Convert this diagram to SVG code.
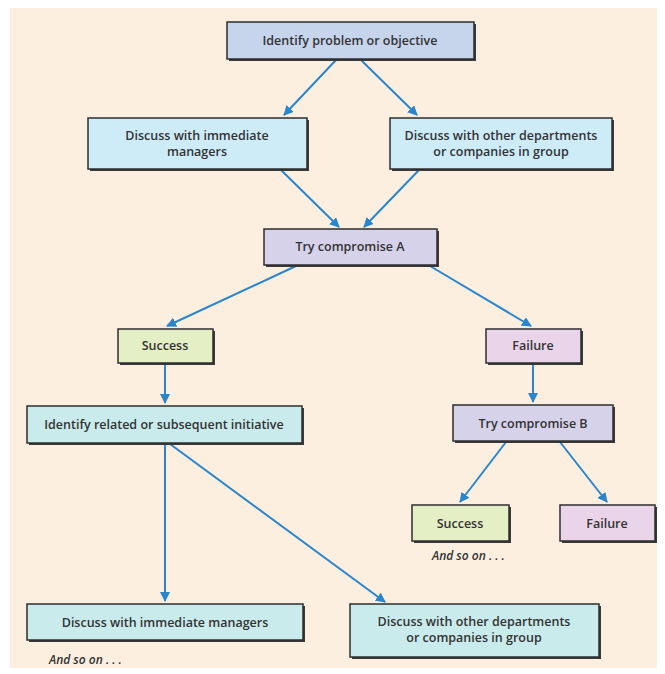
<svg xmlns="http://www.w3.org/2000/svg" width="665" height="674" viewBox="0 0 665 674">
<defs>
<style>
.bx{stroke:#2e2e2e;stroke-width:1.5}
.sh{fill:#3a3a3a}
.t{font-family:"Open Sans","Liberation Sans",sans-serif;font-size:12.5px;font-weight:600;fill:#333;text-anchor:middle}
.it{font-family:"Open Sans","Liberation Sans",sans-serif;font-size:12px;font-style:italic;font-weight:600;fill:#333}
.c{stroke:#2a86cc;stroke-width:2;fill:none;marker-end:url(#ah)}
.blue{fill:#c6d4ec}.lb{fill:#cdecf8}.lav{fill:#d6d2ea}.grn{fill:#e4efc6}.pnk{fill:#ead4ea}.teal{fill:#c9ebec}
</style>
<marker id="ah" viewBox="0 0 10 10" refX="9" refY="5" markerWidth="5" markerHeight="5" orient="auto" markerUnits="strokeWidth">
<path d="M0,0 L10,5 L0,10 z" fill="#2a86cc"/>
</marker>
</defs>
<rect x="0" y="0" width="665" height="674" fill="#ffffff"/>
<rect x="10" y="8" width="647" height="660" fill="#fcefe0"/>
<g id="connectors">
<line class="c" x1="336" y1="60" x2="284" y2="115"/>
<line class="c" x1="361" y1="60" x2="417" y2="115"/>
<line class="c" x1="281" y1="170" x2="339" y2="227"/>
<line class="c" x1="419" y1="170" x2="364" y2="227"/>
<line class="c" x1="296" y1="266" x2="167" y2="326"/>
<line class="c" x1="430" y1="266" x2="531" y2="326"/>
<line class="c" x1="165" y1="364" x2="165" y2="403"/>
<line class="c" x1="533" y1="364" x2="533" y2="402"/>
<line class="c" x1="506" y1="442" x2="460" y2="502"/>
<line class="c" x1="560" y1="442" x2="607" y2="502"/>
<line class="c" x1="165" y1="444" x2="165" y2="601"/>
<line class="c" x1="170" y1="444" x2="385" y2="602"/>
</g>
<g id="n1"><rect class="sh" x="229" y="24" width="247" height="37"/><rect class="bx blue" x="227" y="22" width="247" height="37"/><text class="t" x="350" y="45">Identify problem or objective</text></g>
<g id="n2"><rect class="sh" x="90" y="120" width="219" height="51"/><rect class="bx lb" x="88" y="118" width="219" height="51"/><text class="t" x="197" y="140">Discuss with immediate</text><text class="t" x="197" y="156">managers</text></g>
<g id="n3"><rect class="sh" x="392" y="120" width="222" height="51"/><rect class="bx lb" x="390" y="118" width="222" height="51"/><text class="t" x="501" y="140">Discuss with other departments</text><text class="t" x="501" y="156">or companies in group</text></g>
<g id="n4"><rect class="sh" x="266" y="231" width="173" height="36"/><rect class="bx lav" x="264" y="229" width="173" height="36"/><text class="t" x="350" y="251">Try compromise A</text></g>
<g id="n5"><rect class="sh" x="120" y="331" width="95" height="34"/><rect class="bx grn" x="118" y="329" width="95" height="34"/><text class="t" x="165" y="350">Success</text></g>
<g id="n6"><rect class="sh" x="488" y="331" width="95" height="34"/><rect class="bx pnk" x="486" y="329" width="95" height="34"/><text class="t" x="533" y="350">Failure</text></g>
<g id="n7"><rect class="sh" x="29" y="408" width="275" height="37"/><rect class="bx teal" x="27" y="406" width="275" height="37"/><text class="t" x="164" y="429">Identify related or subsequent initiative</text></g>
<g id="n8"><rect class="sh" x="455" y="407" width="160" height="36"/><rect class="bx lav" x="453" y="405" width="160" height="36"/><text class="t" x="533" y="428">Try compromise B</text></g>
<g id="n9"><rect class="sh" x="414" y="507" width="97" height="36"/><rect class="bx grn" x="412" y="505" width="97" height="36"/><text class="t" x="460" y="528">Success</text></g>
<g id="n10"><rect class="sh" x="562" y="507" width="95" height="36"/><rect class="bx pnk" x="560" y="505" width="95" height="36"/><text class="t" x="607" y="528">Failure</text></g>
<text class="it" x="432" y="560">And so on . . .</text>
<g id="n11"><rect class="sh" x="29" y="606" width="276" height="36"/><rect class="bx teal" x="27" y="604" width="276" height="36"/><text class="t" x="165" y="627">Discuss with immediate managers</text></g>
<g id="n12"><rect class="sh" x="352" y="606" width="249" height="53"/><rect class="bx teal" x="350" y="604" width="249" height="53"/><text class="t" x="474" y="626">Discuss with other departments</text><text class="t" x="474" y="642">or companies in group</text></g>
<text class="it" x="49" y="664">And so on . . .</text>
</svg>
